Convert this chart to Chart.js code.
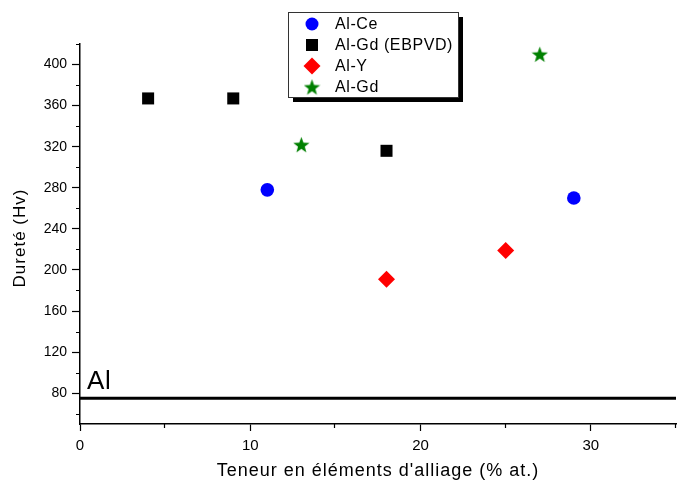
<!DOCTYPE html>
<html>
<head>
<meta charset="utf-8">
<script src="https://cdn.jsdelivr.net/npm/chart.js@4"></script>
<style>
  html, body { margin: 0; padding: 0; background: #fff; }
</style>
</head>
<body>
<canvas id="chart" width="678" height="486"></canvas>
<script>
// values
var alCeX = [11, 29];
var alCeY = [278, 270];
var gdEbpvdX = [4, 9, 18];
var gdEbpvdY = [367, 367, 316];
var alYX = [18, 25];
var alYY = [191, 219];
var alGdX = [13, 27];
var alGdY = [322, 410];
var alPure = 75;

var xTicks = [0, 10, 20, 30];
var xMinor = [5, 15, 25, 35];
var yTicks = [80, 120, 160, 200, 240, 280, 320, 360, 400];
var yMinor = [60, 100, 140, 180, 220, 260, 300, 340, 380, 420];

var xTitle = "Teneur en éléments d'alliage (% at.)";
var yTitle = 'Dureté (Hv)';

var FONT = '"Liberation Sans", Arial, sans-serif';

function pts(xs, ys) {
    return xs.map(function (x, i) { return { x: x, y: ys[i] }; });
}

// filled star marker
function makeStar(size, color) {
    var c = document.createElement('canvas');
    c.width = size; c.height = size;
    var g = c.getContext('2d');
    var cx = size / 2, cy = size / 2 + 0.8, R = size / 2, r = R * 0.42;
    g.beginPath();
    for (var i = 0; i < 10; i++) {
        var rad = (i % 2 === 0) ? R : r;
        var a = -Math.PI / 2 + i * Math.PI / 5;
        g.lineTo(cx + rad * Math.cos(a), cy + rad * Math.sin(a));
    }
    g.closePath();
    g.fillStyle = color;
    g.fill();
    return c;
}
var starImg = makeStar(17, '#008000');

var series = [
    { label: 'Al-Ce', data: pts(alCeX, alCeY), style: 'circle', r: 6.8, color: '#0000ff', lr: 6.5 },
    { label: 'Al-Gd (EBPVD)', data: pts(gdEbpvdX, gdEbpvdY), style: 'rect', r: 8.5, color: '#000000', lr: 8.5 },
    { label: 'Al-Y', data: pts(alYX, alYY), style: 'rectRot', r: 8.5, color: '#ff0000', lr: 8.5 },
    { label: 'Al-Gd', data: pts(alGdX, alGdY), style: starImg, r: 8, color: '#008000', lr: 8 }
];

var datasets = [{
    label: 'Al',
    type: 'line',
    data: [{ x: 0, y: alPure }, { x: 35, y: alPure }],
    borderColor: '#000',
    borderWidth: 3,
    pointRadius: 0,
    fill: false,
    order: 10
}];
series.forEach(function (s) {
    datasets.push({
        label: s.label,
        data: s.data,
        pointStyle: s.style,
        pointRadius: s.r,
        pointHoverRadius: s.r,
        backgroundColor: s.color,
        borderColor: s.color,
        borderWidth: 0,
        order: 1
    });
});

var extras = {
    id: 'extras',
    afterDraw: function (chart) {
        var ctx = chart.ctx;
        var xs = chart.scales.x, ys = chart.scales.y;
        var area = chart.chartArea;
        ctx.save();
        // minor ticks
        ctx.strokeStyle = '#000';
        ctx.lineWidth = 1.2;
        ctx.beginPath();
        xMinor.forEach(function (v) {
            var px = Math.round(xs.getPixelForValue(v)) - 0.5;
            ctx.moveTo(px, xs.top); ctx.lineTo(px, xs.top + 4);
        });
        yMinor.forEach(function (v) {
            var py = Math.round(ys.getPixelForValue(v)) + 0.5;
            ctx.moveTo(ys.right, py); ctx.lineTo(ys.right - 4, py);
        });
        ctx.stroke();

        ctx.fillStyle = '#000';
        if ('letterSpacing' in ctx) ctx.letterSpacing = '0.6px';

        // "Al" label above reference line
        ctx.font = '26px ' + FONT;
        ctx.textBaseline = 'alphabetic';
        ctx.textAlign = 'left';
        ctx.fillText('Al', xs.getPixelForValue(0) + 7, ys.getPixelForValue(alPure) - 9);

        // axis titles
        if ('letterSpacing' in ctx) ctx.letterSpacing = '1px';
        ctx.font = '18px ' + FONT;
        ctx.textAlign = 'center';
        ctx.textBaseline = 'middle';
        ctx.fillText(xTitle, (area.left + area.right) / 2, 471);
        ctx.save();
        ctx.translate(20, 238);
        ctx.rotate(-Math.PI / 2);
        ctx.font = '17px ' + FONT;
        ctx.fillText(yTitle, 0, 0);
        ctx.restore();

        // legend box with shadow
        var bx = 288, by = 12, bw = 170, bh = 85;
        ctx.fillStyle = '#000';
        ctx.fillRect(bx + 5, by + 5, bw, bh);
        ctx.fillStyle = '#fff';
        ctx.fillRect(bx, by, bw, bh);
        ctx.strokeStyle = '#333';
        ctx.lineWidth = 1;
        ctx.strokeRect(bx + 0.5, by + 0.5, bw, bh);
        if ('letterSpacing' in ctx) ctx.letterSpacing = '0.6px';
        ctx.font = '16px ' + FONT;
        ctx.textAlign = 'left';
        ctx.textBaseline = 'middle';
        series.forEach(function (s, i) {
            var ly = 24 + i * 21;
            ctx.fillStyle = s.color;
            ctx.strokeStyle = s.color;
            Chart.helpers.drawPoint(ctx, { pointStyle: s.style, radius: s.lr, rotation: 0, borderWidth: 0 }, 312, ly);
            ctx.fillStyle = '#000';
            ctx.fillText(s.label, 335, ly + 1);
        });
        ctx.restore();
    }
};

var ctx = document.getElementById('chart').getContext('2d');
var chart = new Chart(ctx, {
    type: 'scatter',
    data: { datasets: datasets },
    options: {
        responsive: false,
        animation: false,
        layout: { autoPadding: false, padding: { top: 44, right: 2, left: 0, bottom: 0 } },
        plugins: { legend: { display: false }, tooltip: { enabled: false } },
        scales: {
            x: {
                type: 'linear',
                min: 0,
                max: 35,
                afterBuildTicks: function (s) { s.ticks = xTicks.map(function (v) { return { value: v }; }); },
                afterFit: function (s) { s.height = 62; s.paddingLeft = 0; s.paddingRight = 0; },
                grid: { display: true, drawOnChartArea: false, tickLength: 7, color: '#000', tickWidth: 1.2 },
                border: { display: true, color: '#000', width: 1.5 },
                ticks: { color: '#000', font: { family: FONT, size: 15 }, padding: 6, maxRotation: 0 }
            },
            y: {
                type: 'linear',
                min: 50,
                max: 420,
                afterBuildTicks: function (s) { s.ticks = yTicks.map(function (v) { return { value: v }; }); },
                afterFit: function (s) { s.width = 80; s.paddingTop = 0; s.paddingBottom = 0; },
                grid: { display: true, drawOnChartArea: false, tickLength: 8, color: '#000', tickWidth: 1.2 },
                border: { display: true, color: '#000', width: 1.5 },
                ticks: { color: '#000', font: { family: FONT, size: 14 }, padding: 5 }
            }
        }
    },
    plugins: [extras]
});
</script>
</body>
</html>
